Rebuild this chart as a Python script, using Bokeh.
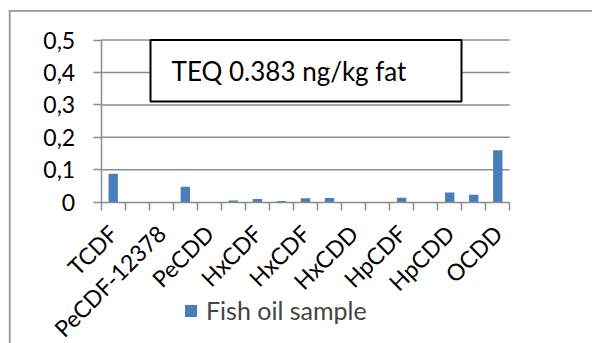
import math
from bokeh.plotting import figure
from bokeh.models import (FixedTicker, BoxAnnotation, Label, Legend, LegendItem,
                          ColumnDataSource)
from bokeh.embed import file_html
from bokeh.resources import INLINE

categories = ["TCDF", "TCDD", "PeCDF-12378", "PeCDF-23478", "PeCDD",
              "HxCDF-123478", "HxCDF-123678", "HxCDF-234678", "HxCDF-123789",
              "HxCDD-123478", "HxCDD-123678", "HxCDD-123789", "HpCDF-1234678",
              "HpCDF-1234789", "HpCDD", "OCDF", "OCDD"]
tick_labels = ["TCDF", "PeCDF-12378", "PeCDD", "HxCDF", "HxCDF", "HxCDD",
               "HpCDF", "HpCDD", "OCDD"]
values = [0.088, 0.0, 0.0, 0.048, 0.0, 0.005, 0.010, 0.004, 0.012, 0.013,
          0.0, 0.0, 0.014, 0.0, 0.030, 0.023, 0.160]
series_name = "Fish oil sample"
y_ticks = [0, 0.1, 0.2, 0.3, 0.4, 0.5]
y_tick_labels = ["0", "0,1", "0,2", "0,3", "0,4", "0,5"]
annotation_text = "TEQ 0.383 ng/kg fat"

FONT = "Lato"
GRAY = "#8c8c8c"
BLUE = "#4a7ebb"
BORDER = "#9a9a9a"

W, H = 592, 343
n = len(categories)

# layout: plot area spans x 100.7..509.3 px and y 39.5 (0.5) .. 201.7 (0) px
X_PX = (509.3 - 100.7) / n
Y_PX = (201.7 - 39.5) / 0.5
x_start = -0.5 - 100.7 / X_PX
x_end = x_start + W / X_PX
y_end = 0.5 + 39.5 / Y_PX
y_start = y_end - H / Y_PX


def px_x(px):
    return x_start + px / X_PX


def px_y(py):
    return y_end - py / Y_PX


xs = list(range(n))
src = ColumnDataSource(dict(x=xs, top=values, cat=categories))

p = figure(width=W, height=H, x_range=(x_start, x_end), y_range=(y_start, y_end),
           output_backend="svg", toolbar_location=None, min_border=0)
p.outline_line_color = None
p.background_fill_color = "white"
p.border_fill_color = "white"
p.xgrid.visible = False
p.ygrid.visible = False

# chart area border: left and top edges (right and bottom lie outside the picture)
p.quad(left=px_x(8.3), right=px_x(10.2), top=px_y(9.4), bottom=y_start,
       fill_color=BORDER, line_color=None)
p.quad(left=px_x(8.3), right=x_end, top=px_y(9.4), bottom=px_y(11.2),
       fill_color=BORDER, line_color=None)

# horizontal gridlines over the plot area only
grid_y = [t for t in y_ticks if t > 0]
p.segment(x0=[-0.5] * len(grid_y), x1=[n - 0.5] * len(grid_y), y0=grid_y,
          y1=grid_y, line_color=GRAY, line_width=1.5)

# x axis drawn at y = 0
label_pos = xs[::2]
p.xaxis.fixed_location = 0
p.xaxis.bounds = (-0.5, n - 0.5)
p.xaxis.ticker = FixedTicker(ticks=label_pos,
                             minor_ticks=[i - 0.5 for i in range(n + 1)])
p.xaxis.major_label_overrides = {pos: lab for pos, lab in zip(label_pos, tick_labels)}
p.xaxis.major_tick_out = 0
p.xaxis.major_tick_in = 0
p.xaxis.minor_tick_out = 8
p.xaxis.minor_tick_in = 0
p.xaxis.minor_tick_line_color = GRAY
p.xaxis.minor_tick_line_width = 1.5
p.xaxis.axis_line_color = GRAY
p.xaxis.axis_line_width = 1.5
p.xaxis.major_label_orientation = math.pi / 4
p.xaxis.major_label_standoff = 19
p.xaxis.major_label_text_font = FONT
p.xaxis.major_label_text_font_size = "23px"
p.xaxis.major_label_text_color = "black"

# y axis drawn at x = -0.5
p.yaxis.fixed_location = -0.5
p.yaxis.bounds = (0, 0.5)
p.yaxis.ticker = FixedTicker(ticks=y_ticks, minor_ticks=[])
p.yaxis.major_label_overrides = dict(zip(y_ticks, y_tick_labels))
p.yaxis.major_tick_out = 8
p.yaxis.major_tick_in = 0
p.yaxis.major_tick_line_color = GRAY
p.yaxis.major_tick_line_width = 1.5
p.yaxis.axis_line_color = GRAY
p.yaxis.axis_line_width = 1.5
p.yaxis.major_label_standoff = 18
p.yaxis.major_label_text_font = FONT
p.yaxis.major_label_text_font_size = "23px"
p.yaxis.major_label_text_color = "black"

r = p.vbar(x="x", top="top", width=0.39, source=src, fill_color=BLUE,
           line_color=None)

legend = Legend(items=[LegendItem(label=series_name, renderers=[r])],
                location=(183, 18), orientation="horizontal",
                border_line_color=None, background_fill_alpha=0,
                padding=0, margin=0, glyph_width=15, glyph_height=15,
                label_height=20, label_text_font=FONT,
                label_text_font_size="25px", label_standoff=8)
p.add_layout(legend)

# TEQ text box
box = BoxAnnotation(left=px_x(150), right=px_x(461), top=px_y(39.5), bottom=px_y(101),
                    fill_color="white", fill_alpha=1, line_color="black",
                    line_alpha=1, line_width=2)
p.add_layout(box)
p.add_layout(Label(x=px_x(288.5), y=px_y(70), text=annotation_text,
                   text_align="center", text_baseline="middle", text_font=FONT,
                   text_font_size="26px", text_color="black"))

open("out.html", "w").write(file_html(p, INLINE))
